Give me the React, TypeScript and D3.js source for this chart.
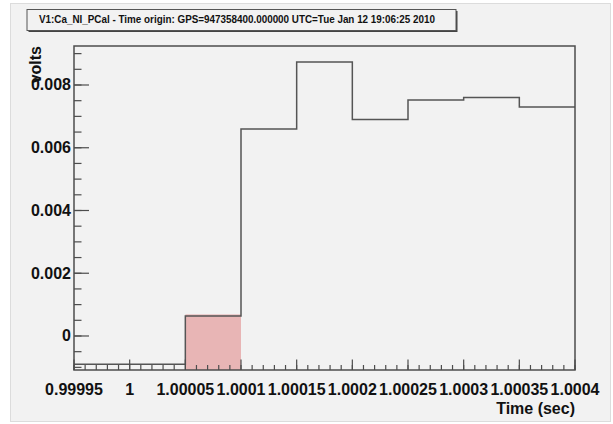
import React from "react";
import * as d3 from "d3";

const binEdges = [0.99995, 1.0, 1.00005, 1.0001, 1.00015, 1.0002, 1.00025, 1.0003, 1.00035, 1.0004];
const binValues = [-0.0009, -0.0009, 0.00064, 0.0066, 0.00873, 0.0069, 0.00752, 0.0076, 0.0073];
const highlightBin = 2;
const xTickValues = [0.99995, 1.0, 1.00005, 1.0001, 1.00015, 1.0002, 1.00025, 1.0003, 1.00035, 1.0004];
const xTickLabels = ["0.99995", "1", "1.00005", "1.0001", "1.00015", "1.0002", "1.00025", "1.0003", "1.00035", "1.0004"];
const yTickValues = [0, 0.002, 0.004, 0.006, 0.008];
const yTickLabels = ["0", "0.002", "0.004", "0.006", "0.008"];
const titleText = "V1:Ca_NI_PCal - Time origin: GPS=947358400.000000 UTC=Tue Jan 12 19:06:25 2010";
const xTitle = "Time (sec)";
const yTitle = "volts";

const W = 613;
const H = 424;
const L = 74, R = 575, T = 46, B = 370;
const FONT = "'Liberation Sans', Arial, Helvetica, sans-serif";
const AX = "#4d4d4d";

export default function App() {
  const x = d3.scaleLinear().domain([0.99995, 1.0004]).range([L, R]);
  const y = d3.scaleLinear().domain([-0.001084, 0.009243]).range([B, T]);

  const xMinor = d3.range(0, 46).map((i) => 0.99995 + i * 0.00001);
  const yMinor = d3.range(-2, 19).map((i) => i * 0.0005);

  const pts: [number, number][] = [];
  binValues.forEach((v, i) => {
    pts.push([binEdges[i], v]);
    pts.push([binEdges[i + 1], v]);
  });
  const line = d3.line<[number, number]>().x((d) => x(d[0])).y((d) => y(d[1]));

  return (
    <svg width={W} height={H} style={{ position: "absolute", left: 0, top: 0 }} fontFamily={FONT}>
      <rect x={0} y={0} width={W} height={H} fill="#ffffff" />
      <rect x={10.5} y={3.5} width={600} height={418} fill="#f2f2f2" stroke="#dcdcdc" />

      {/* title box */}
      <rect x={28.5} y={11} width={429} height={21} fill="#444" />
      <rect x={27} y={9.5} width={429} height={21} fill="#f2f2f2" stroke="#555" strokeWidth={1} />
      <text x={39} y={20.5} fontSize={10} fontWeight="bold" fill="#111" textLength={396} lengthAdjust="spacingAndGlyphs" dominantBaseline="middle">
        {titleText}
      </text>

      {/* highlight */}
      <rect
        x={x(binEdges[highlightBin])}
        y={y(binValues[highlightBin]) - 1.5}
        width={x(binEdges[highlightBin + 1]) - x(binEdges[highlightBin])}
        height={B - y(binValues[highlightBin]) + 1.5}
        fill="#e8b5b5"
      />

      {/* histogram */}
      <path d={line(pts) || ""} fill="none" stroke="#555" strokeWidth={1.5} />

      {/* frame */}
      <rect x={L} y={T} width={R - L} height={B - T} fill="none" stroke={AX} strokeWidth={1.5} />

      {/* y ticks */}
      {yMinor.filter((v) => y(v) < B - 1).map((v, i) => (
        <line key={"ym" + i} x1={L} x2={L + 7.5} y1={y(v)} y2={y(v)} stroke={AX} strokeWidth={1.2} />
      ))}
      {yTickValues.map((v, i) => (
        <g key={"yt" + i}>
          <line x1={L} x2={L + 15} y1={y(v)} y2={y(v)} stroke={AX} strokeWidth={1.2} />
          <text x={L - 3} y={y(v)} textAnchor="end" dominantBaseline="central" fontSize={16} fontWeight="bold" fill="#111">
            {yTickLabels[i]}
          </text>
        </g>
      ))}

      {/* x ticks */}
      {xMinor.map((v, i) => (
        <line key={"xm" + i} x1={x(v)} x2={x(v)} y1={B} y2={B - 5} stroke={AX} strokeWidth={1.2} />
      ))}
      {xTickValues.map((v, i) => (
        <g key={"xt" + i}>
          <line x1={x(v)} x2={x(v)} y1={B} y2={B - 10.5} stroke={AX} strokeWidth={1.2} />
          <text x={x(v)} y={395} textAnchor="middle" fontSize={16} fontWeight="bold" fill="#111">
            {xTickLabels[i]}
          </text>
        </g>
      ))}

      {/* axis titles */}
      <text x={R} y={414} textAnchor="end" fontSize={16} fontWeight="bold" fill="#111">
        {xTitle}
      </text>
      <text transform={`translate(41,${T}) rotate(-90)`} textAnchor="end" fontSize={16} fontWeight="bold" fill="#111">
        {yTitle}
      </text>
    </svg>
  );
}
